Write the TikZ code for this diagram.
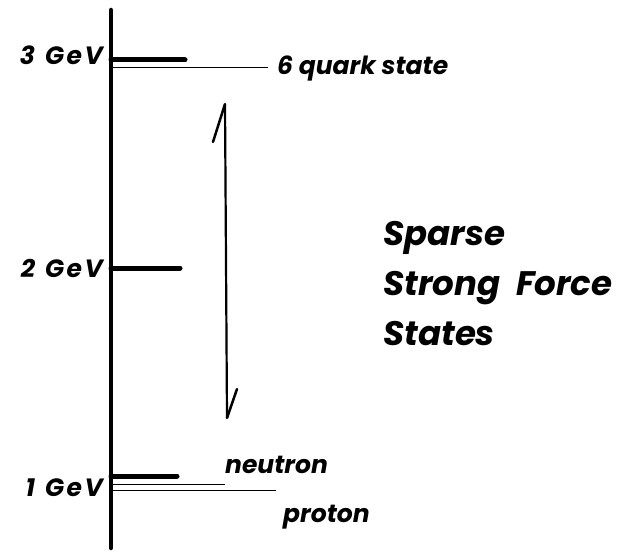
\documentclass[tikz,border=0pt]{standalone}
\usepackage{fontspec}
\setmainfont{Poppins}
\newcommand{\gev}[1]{#1\hspace{10pt}G\kern2.5pt e\kern2.5pt V}
\begin{document}
\begin{tikzpicture}[x=1pt,y=-1pt,
  lbl/.style={font=\bfseries\itshape\fontsize{25}{27}\selectfont, inner sep=0pt},
  big/.style={font=\bfseries\itshape\fontsize{34}{36}\selectfont, inner sep=0pt, anchor=base west},
  tick/.style={line width=5pt, line cap=round},
  level/.style={line width=1pt},
  axis/.style={line width=4.5pt, line cap=round}]
\useasboundingbox (0,0) rectangle (617,553);
\coordinate (top) at (111,10);
\coordinate (bot) at (111,548);
\draw[axis] (top) -- (bot);
% 3 GeV
\coordinate (t3) at (111,60);
\coordinate (t3e) at (185,60);
\draw[tick] (t3) -- (t3e);
\coordinate (s6) at (111,68);
\node[lbl, anchor=base west] (six) at (277,75) {6 quark state};
\draw[level] (s6) -- ([xshift=-9pt]s6 -| six.west);
\node[lbl, anchor=base east] (g3) at (103,65) {\gev{3}};
% 2 GeV
\coordinate (t2) at (111,268);
\coordinate (t2e) at (180,268);
\draw[tick] (t2) -- (t2e);
\node[lbl, anchor=base east] (g2) at (103,277) {\gev{2}};
% 1 GeV
\coordinate (t1) at (111,476);
\coordinate (t1e) at (177,476);
\draw[tick] (t1) -- (t1e);
\coordinate (n0) at (111,484);
\coordinate (n1) at (225,484);
\coordinate (p0) at (111,490);
\coordinate (p1) at (276,490);
\draw[level] (n0) -- (n1);
\draw[level, line width=0.7pt] (p0) -- (p1);
\node[lbl, anchor=base west] (neu) at (225,473) {neutron};
\node[lbl, anchor=base west] (pro) at (283,522) {proton};
\node[lbl, anchor=base east] (g1) at (103,496) {\gev{1}};
% arrow
\coordinate (a0) at (225,104);
\coordinate (a1) at (227,418);
\draw[line width=2.2pt] (a0) -- (a1);
\draw[line width=2.5pt, line cap=round] (a0) -- (213,142);
\draw[line width=2.5pt, line cap=round] (a1) -- (237,389);
% text
\node[big] (sp) at (383,245) {Sparse};
\node[big] (sf) at (383,295) {Strong\ \ Force};
\node[big] (st) at (383,345) {States};
\end{tikzpicture}
\end{document}
